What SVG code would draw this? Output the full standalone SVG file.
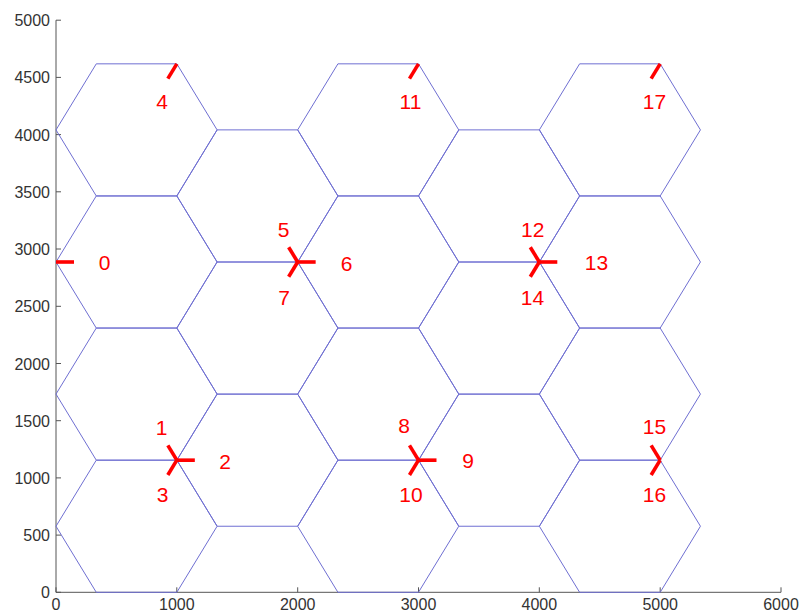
<svg xmlns="http://www.w3.org/2000/svg" xmlns:xlink="http://www.w3.org/1999/xlink" width="803" height="614" viewBox="0 0 803 614">
<style>
.axis{stroke:#555;stroke-width:1;fill:none}
.tick{font-family:"Liberation Sans",Arial,sans-serif;font-size:16px;fill:#333}
.ytick{text-anchor:end}
.xtick{text-anchor:middle}
.cell{fill:none;stroke:#6f6fd2;stroke-width:1}
.sec{stroke:#ff0000;stroke-width:3.6;fill:none}
.lbl{font-family:"Liberation Sans",Arial,sans-serif;font-size:21px;fill:#ff0000;text-anchor:middle}
</style>
<defs>
<path id="hex" d="M-80.55,0 L-40.28,-66.06 L40.28,-66.06 L80.55,0 L40.28,66.06 L-40.28,66.06 Z"/>
<path id="sR" d="M0,0 h18"/>
<path id="sUL" d="M0,0 l-9,-14.8"/>
<path id="sLL" d="M0,0 l-9,14.8"/>
</defs>
<rect width="803" height="614" fill="#fff"/>
<g id="axes">
<path class="axis" d="M56,20.2 V592.3 H781"/>
<path class="axis" d="M56,592.3 h5 M56,535.1 h5 M56,477.9 h5 M56,420.7 h5 M56,363.5 h5 M56,306.3 h5 M56,249 h5 M56,191.8 h5 M56,134.6 h5 M56,77.4 h5 M56,20.2 h5"/>
<path class="axis" d="M56,592.3 v-5 M176.8,592.3 v-5 M297.7,592.3 v-5 M418.5,592.3 v-5 M539.3,592.3 v-5 M660.2,592.3 v-5 M781,592.3 v-5"/>
<g class="tick ytick">
<text x="50" y="598.3">0</text>
<text x="50" y="541.1">500</text>
<text x="50" y="483.9">1000</text>
<text x="50" y="426.7">1500</text>
<text x="50" y="369.5">2000</text>
<text x="50" y="312.3">2500</text>
<text x="50" y="255">3000</text>
<text x="50" y="197.8">3500</text>
<text x="50" y="140.6">4000</text>
<text x="50" y="83.4">4500</text>
<text x="50" y="26.2">5000</text>
</g>
<g class="tick xtick">
<text x="56" y="609.5">0</text>
<text x="176.8" y="609.5">1000</text>
<text x="297.7" y="609.5">2000</text>
<text x="418.5" y="609.5">3000</text>
<text x="539.3" y="609.5">4000</text>
<text x="660.2" y="609.5">5000</text>
<text x="781" y="609.5">6000</text>
</g>
</g>
<g id="cells" class="cell">
<use id="cell-c1-r1" xlink:href="#hex" x="136.55" y="129.9"/>
<use id="cell-c1-r2" xlink:href="#hex" x="136.55" y="262"/>
<use id="cell-c1-r3" xlink:href="#hex" x="136.55" y="394.1"/>
<use id="cell-c1-r4" xlink:href="#hex" x="136.55" y="526.24"/>
<use id="cell-c2-r1" xlink:href="#hex" x="257.4" y="195.94"/>
<use id="cell-c2-r2" xlink:href="#hex" x="257.4" y="328.06"/>
<use id="cell-c2-r3" xlink:href="#hex" x="257.4" y="460.18"/>
<use id="cell-c3-r1" xlink:href="#hex" x="378.2" y="129.9"/>
<use id="cell-c3-r2" xlink:href="#hex" x="378.2" y="262"/>
<use id="cell-c3-r3" xlink:href="#hex" x="378.2" y="394.1"/>
<use id="cell-c3-r4" xlink:href="#hex" x="378.2" y="526.24"/>
<use id="cell-c4-r1" xlink:href="#hex" x="499.1" y="195.94"/>
<use id="cell-c4-r2" xlink:href="#hex" x="499.1" y="328.06"/>
<use id="cell-c4-r3" xlink:href="#hex" x="499.1" y="460.18"/>
<use id="cell-c5-r1" xlink:href="#hex" x="619.9" y="129.9"/>
<use id="cell-c5-r2" xlink:href="#hex" x="619.9" y="262"/>
<use id="cell-c5-r3" xlink:href="#hex" x="619.9" y="394.1"/>
<use id="cell-c5-r4" xlink:href="#hex" x="619.9" y="526.24"/>
</g>
<g id="site-0" class="sec">
<use xlink:href="#sR" x="56" y="262"/>
</g>
<g id="site-1-2-3" class="sec">
<use xlink:href="#sUL" x="176.83" y="460.18"/>
<use xlink:href="#sR" x="176.83" y="460.18"/>
<use xlink:href="#sLL" x="176.83" y="460.18"/>
</g>
<g id="site-4" class="sec">
<use xlink:href="#sLL" x="176.83" y="63.82"/>
</g>
<g id="site-5-6-7" class="sec">
<use xlink:href="#sUL" x="297.66" y="262"/>
<use xlink:href="#sR" x="297.66" y="262"/>
<use xlink:href="#sLL" x="297.66" y="262"/>
</g>
<g id="site-8-9-10" class="sec">
<use xlink:href="#sUL" x="418.5" y="460.18"/>
<use xlink:href="#sR" x="418.5" y="460.18"/>
<use xlink:href="#sLL" x="418.5" y="460.18"/>
</g>
<g id="site-11" class="sec">
<use xlink:href="#sLL" x="418.5" y="63.82"/>
</g>
<g id="site-12-13-14" class="sec">
<use xlink:href="#sUL" x="539.3" y="262"/>
<use xlink:href="#sR" x="539.3" y="262"/>
<use xlink:href="#sLL" x="539.3" y="262"/>
</g>
<g id="site-15-16" class="sec">
<use xlink:href="#sUL" x="660.15" y="460.18"/>
<use xlink:href="#sLL" x="660.15" y="460.18"/>
</g>
<g id="site-17" class="sec">
<use xlink:href="#sLL" x="660.15" y="63.82"/>
</g>
<g id="labels" class="lbl">
<text x="104.5" y="270">0</text>
<text x="161.5" y="434.5">1</text>
<text x="225" y="469">2</text>
<text x="162.5" y="501.5">3</text>
<text x="162" y="108.5">4</text>
<text x="283.5" y="236.5">5</text>
<text x="346.5" y="271">6</text>
<text x="284" y="304.5">7</text>
<text x="404" y="433.2">8</text>
<text x="468" y="468.2">9</text>
<text x="411" y="501.5">10</text>
<text x="410.5" y="108.5">11</text>
<text x="532.8" y="236.5">12</text>
<text x="596.5" y="270">13</text>
<text x="532.5" y="304.5">14</text>
<text x="654.5" y="433.5">15</text>
<text x="654.5" y="501.5">16</text>
<text x="654.5" y="108.5">17</text>
</g>
</svg>
